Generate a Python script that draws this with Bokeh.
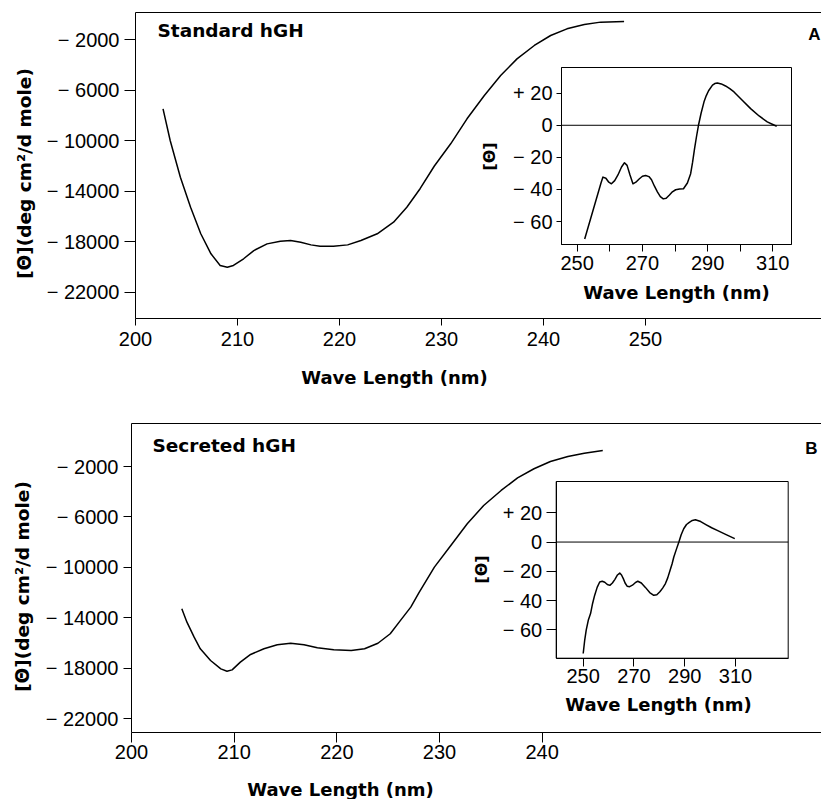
import math
from bokeh.plotting import figure
from bokeh.models import Range1d, LinearAxis, FixedTicker, Label, BoxAnnotation
from bokeh.layouts import column
from bokeh.embed import file_html
from bokeh.resources import INLINE

# ---------------- data ----------------
A_WL = [202.7, 203.4, 204.4, 205.4, 206.4, 207.4, 208.3, 209.0, 209.6, 210.6, 211.6, 212.9,
        214.2, 215.2, 216.2, 217.2, 218.1, 219.4, 220.8, 222.1, 223.7, 225.3, 226.6, 227.9,
        229.3, 230.9, 232.5, 234.2, 235.8, 237.4, 239.1, 240.7, 242.3, 244.0, 245.6, 247.9]
A_THETA = [-7470, -9980, -12890, -15270, -17370, -18960, -19880, -20020, -19880, -19350, -18700, -18170,
           -17960, -17900, -18040, -18250, -18360, -18360, -18250, -17900, -17370, -16450, -15270, -13800,
           -12000, -10240, -8260, -6410, -4830, -3510, -2450, -1660, -1130, -790, -600, -550]

A_IN_WL = [252.3, 255.0, 257.3, 257.9, 258.8, 259.7, 260.5, 261.5, 262.5, 263.6, 264.5, 265.3,
           266.2, 267.1, 268.0, 269.0, 270.0, 271.0, 272.0, 272.8, 273.7, 274.6, 275.5, 276.4,
           277.3, 278.3, 279.2, 280.2, 281.4, 282.6, 283.8, 284.8, 285.4, 286.0, 286.6, 287.2,
           288.0, 288.9, 289.6, 290.3, 291.5, 292.2, 293.0, 294.2, 295.5, 296.8, 298.1, 300.7,
           303.2, 305.8, 308.3, 310.0, 311.2]
A_IN_THETA = [-70.9, -52.0, -36.0, -32.3, -33.0, -35.5, -36.5, -34.5, -31.0, -26.0, -23.4, -25.0,
              -31.0, -36.5, -35.5, -33.5, -31.8, -31.3, -32.0, -34.0, -38.0, -41.5, -44.5, -45.9,
              -45.5, -43.5, -41.5, -40.2, -39.8, -39.6, -36.0, -30.2, -23.0, -14.6, -7.0, 0.0,
              7.5, 14.6, 18.5, 21.5, 25.0, 26.0, 26.4, 25.8, 24.5, 22.8, 20.8, 15.5,
              10.4, 5.8, 2.1, 0.5, -0.6]

B_WL = [204.9, 205.4, 206.1, 206.7, 207.7, 208.7, 209.3, 209.8, 210.6, 211.6, 212.9, 214.2,
        215.5, 216.8, 218.1, 219.7, 221.4, 222.7, 224.0, 225.2, 226.2, 227.2, 228.0, 229.5,
        231.1, 232.7, 234.3, 236.0, 237.6, 239.2, 240.8, 242.5, 244.1, 245.9]
B_THETA = [-13280, -14340, -15530, -16450, -17380, -18040, -18230, -18120, -17510, -16900, -16450, -16130,
           -16010, -16130, -16370, -16530, -16590, -16450, -16010, -15260, -14200, -13150, -12000, -9980,
           -8260, -6540, -5090, -3900, -2900, -2180, -1600, -1210, -950, -730]

B_IN_WL = [250.0, 250.6, 251.2, 252.0, 252.9, 253.7, 254.5, 255.5, 256.5, 257.5, 258.5, 259.5,
           260.5, 261.5, 262.5, 263.5, 264.4, 265.1, 265.8, 266.5, 267.3, 268.3, 269.4, 270.5,
           271.5, 272.9, 274.5, 276.2, 277.8, 279.0, 280.2, 281.3, 282.4, 283.3, 284.2, 285.0,
           285.7, 286.7, 287.7, 288.6, 289.6, 290.7, 291.8, 293.0, 294.2, 296.3, 298.5, 300.6,
           302.8, 306.3, 309.7]
B_IN_THETA = [-76.2, -67.0, -60.0, -53.5, -48.9, -42.0, -36.5, -31.0, -27.3, -26.8, -27.5, -29.0,
              -29.6, -28.0, -25.5, -22.5, -21.2, -22.5, -25.0, -28.0, -30.2, -30.5, -29.5, -27.8,
              -26.8, -28.0, -31.0, -34.5, -36.4, -36.0, -34.0, -31.5, -28.4, -24.5, -19.5, -15.0,
              -10.2, -5.0, 0.0, 5.0, 9.1, 12.0, 13.5, 14.8, 15.3, 14.0, 11.8, 9.8,
              8.0, 5.1, 2.3]

MAIN_Y_TICKS = [-22000, -18000, -14000, -10000, -6000, -2000]
MAIN_Y_LABELS = ["\u2212 22000", "\u2212 18000", "\u2212 14000", "\u2212 10000", "\u2212 6000", "\u2212 2000"]
A_X_TICKS = [200, 210, 220, 230, 240, 250]
B_X_TICKS = [200, 210, 220, 230, 240]
INSET_Y_TICKS = [-60, -40, -20, 0, 20]
INSET_Y_LABELS = ["\u2212 60", "\u2212 40", "\u2212 20", "0", "+ 20"]
INSET_X_TICKS = [250, 270, 290, 310]
A_INSET_X_MINOR = [260, 280, 300]
B_INSET_X_MINOR = []
TITLES = ["Standard hGH", "Secreted hGH"]
TAGS = ["A", "B"]
Y_TITLE = "[\u0398](deg cm\u00b2/d mole)"
X_TITLE = "Wave Length (nm)"
INSET_Y_TITLE = "[\u0398]"

# ---------------- layout geometry (page pixels) ----------------
FIG_W = 821
TICK_FONT = "Liberation Sans"
BOLD_FONT = "DejaVu Sans"


def lin(p, a0, a1):
    (p0, v0), (p1, v1) = a0, a1
    return v0 + (p - p0) * (v1 - v0) / (p1 - p0)


PANELS = [
    dict(top=0, height=408, frame=(135, 821, 12, 318),
         mx=((135, 200), (645, 250)), my=((39.3, -2000), (291.7, -22000)),
         ix=((576.7, 250), (772.3, 310)), iy=((92.7, 20), (221.0, -60)),
         ibox=(561, 791, 67, 244),
         wl=A_WL, th=A_THETA, iwl=A_IN_WL, ith=A_IN_THETA,
         xticks=A_X_TICKS, iminor=A_INSET_X_MINOR,
         x_tick=7, x_stand=6, y_tick=11, y_stand=5,
         ix_tick=7, ix_stand=4, iy_tick=5, iy_stand=4,
         title=TITLES[0], title_pos=(157, 30), tag=TAGS[0], tag_pos=(820, 34),
         ylab_pos=(24, 173), xlab_pos=(394, 377),
         iylab_pos=(489, 156), ixlab_pos=(676, 292)),
    dict(top=408, height=391, frame=(131, 821, 423, 732),
         mx=((131, 200), (541.7, 240)), my=((466, -2000), (718.3, -22000)),
         ix=((582.7, 250), (735, 310)), iy=((512.3, 20), (629.3, -60)),
         ibox=(555.7, 787.7, 481, 657.7),
         wl=B_WL, th=B_THETA, iwl=B_IN_WL, ith=B_IN_THETA,
         xticks=B_X_TICKS, iminor=B_INSET_X_MINOR,
         x_tick=10, x_stand=2, y_tick=8, y_stand=5,
         ix_tick=8, ix_stand=3, iy_tick=10, iy_stand=4,
         title=TITLES[1], title_pos=(152, 445), tag=TAGS[1], tag_pos=(817, 448),
         ylab_pos=(22, 586), xlab_pos=(340, 789),
         iylab_pos=(481, 569), ixlab_pos=(658, 704)),
]


def style_axis(ax, tick_out, standoff, size="20px"):
    ax.axis_line_color = "black"
    ax.axis_line_width = 1
    ax.major_tick_line_color = "black"
    ax.major_tick_in = 0
    ax.major_tick_out = tick_out
    ax.minor_tick_in = 0
    ax.minor_tick_out = 0
    ax.major_label_standoff = standoff
    ax.major_label_text_font = TICK_FONT
    ax.major_label_text_font_size = size
    ax.major_label_text_color = "black"


def make_panel(c):
    top, h = c["top"], c["height"]
    fl, fr, ft, fb = c["frame"]
    mx, my, ix, iy = c["mx"], c["my"], c["ix"], c["iy"]
    # the plotting frame covers the whole canvas; the visible axes are placed inside it
    p = figure(width=FIG_W, height=h,
               x_range=Range1d(lin(0, *mx), lin(FIG_W, *mx)),
               y_range=Range1d(lin(top + h, *my), lin(top, *my)),
               x_axis_location=None, y_axis_location=None,
               output_backend="svg", toolbar_location=None,
               min_border=0, min_border_left=0, min_border_right=0,
               min_border_top=0, min_border_bottom=0,
               outline_line_color=None, background_fill_color="white",
               border_fill_color="white")
    for g in p.grid:
        g.visible = False
    p.extra_x_ranges = {"ix": Range1d(lin(0, *ix), lin(FIG_W, *ix))}
    p.extra_y_ranges = {"iy": Range1d(lin(top + h, *iy), lin(top, *iy))}

    mx0, mx1 = lin(fl, *mx), lin(fr, *mx)
    my0, my1 = lin(fb, *my), lin(ft, *my)

    # main axes
    xa = LinearAxis(fixed_location=my0, bounds=(mx0, mx1), ticker=FixedTicker(ticks=c["xticks"]))
    style_axis(xa, c["x_tick"], c["x_stand"])
    p.add_layout(xa, "below")
    ya = LinearAxis(fixed_location=mx0, bounds=(my0, my1), ticker=FixedTicker(ticks=MAIN_Y_TICKS),
                    major_label_overrides=dict(zip(MAIN_Y_TICKS, MAIN_Y_LABELS)))
    style_axis(ya, c["y_tick"], c["y_stand"])
    p.add_layout(ya, "left")
    ta = LinearAxis(fixed_location=my1, bounds=(mx0, mx1), ticker=FixedTicker(ticks=[]),
                    major_label_text_font_size="0px")
    style_axis(ta, 0, 0, "0px")
    p.add_layout(ta, "above")

    # main curve
    p.line(c["wl"], c["th"], line_color="black", line_width=1.5, line_join="round")

    # inset
    il, ir, it, ib = c["ibox"]
    ix0, ix1 = lin(il, *ix), lin(ir, *ix)
    iy0, iy1 = lin(ib, *iy), lin(it, *iy)
    p.add_layout(BoxAnnotation(left=ix0, right=ix1, bottom=iy0, top=iy1,
                               x_range_name="ix", y_range_name="iy",
                               fill_color=None, line_color="black", line_width=1,
                               line_alpha=1))
    ay = LinearAxis(x_range_name="ix", y_range_name="iy", fixed_location=ix0,
                    bounds=(iy0, iy1), ticker=FixedTicker(ticks=INSET_Y_TICKS),
                    major_label_overrides=dict(zip(INSET_Y_TICKS, INSET_Y_LABELS)))
    style_axis(ay, c["iy_tick"], c["iy_stand"])
    p.add_layout(ay, "left")
    ax = LinearAxis(x_range_name="ix", y_range_name="iy", fixed_location=iy0,
                    bounds=(ix0, ix1),
                    ticker=FixedTicker(ticks=INSET_X_TICKS, minor_ticks=c["iminor"]))
    style_axis(ax, c["ix_tick"], c["ix_stand"])
    ax.minor_tick_out = c["ix_tick"]
    ax.minor_tick_line_color = "black"
    p.add_layout(ax, "below")
    p.line([ix0, ix1], [0, 0], x_range_name="ix", y_range_name="iy",
           line_color="black", line_width=1)
    p.line(c["iwl"], c["ith"], x_range_name="ix", y_range_name="iy",
           line_color="black", line_width=1.5, line_join="round")

    # texts
    def put(text, pos, size, align="center", angle=0.0, font=BOLD_FONT):
        p.add_layout(Label(x=lin(pos[0], *mx), y=lin(pos[1], *my), text=text,
                           text_font=font, text_font_size=size, text_font_style="bold",
                           text_color="black", text_align=align, text_baseline="middle",
                           angle=angle))

    put(c["title"], c["title_pos"], "18.5px", align="left")
    put(c["tag"], c["tag_pos"], "17px", align="right", font="Liberation Sans")
    put(Y_TITLE, c["ylab_pos"], "18.5px", angle=math.pi / 2)
    put(X_TITLE, c["xlab_pos"], "18px")
    put(INSET_Y_TITLE, c["iylab_pos"], "16px", angle=math.pi / 2)
    put(X_TITLE, c["ixlab_pos"], "18px")
    return p


layout = column(*[make_panel(c) for c in PANELS], spacing=0)
open("out.html", "w").write(file_html(layout, INLINE))
